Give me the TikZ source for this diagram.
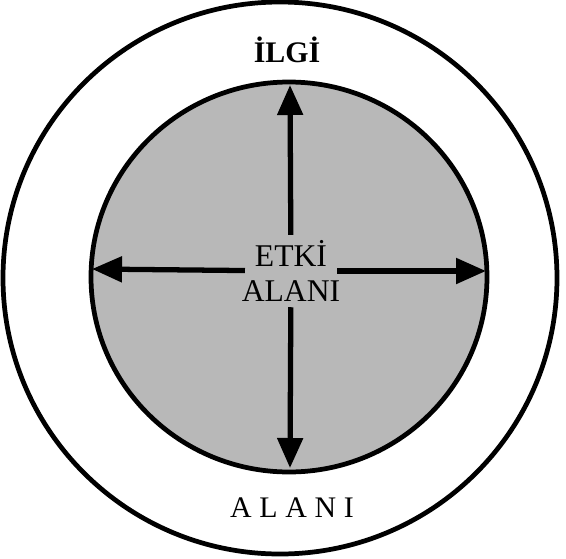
\documentclass[tikz,border=0pt]{standalone}
\usepackage{fontspec}
\setmainfont{Liberation Serif}
\usetikzlibrary{arrows.meta}
\tikzset{
  ring/.style={line width=2.7pt},
  arr/.style={line width=3pt, -{Triangle[length=0.6cm,width=0.5cm]}},
  lbl/.style={font=\fontsize{18}{20}\selectfont}
}
\begin{document}
\begin{tikzpicture}[x=0.02cm,y=-0.02cm]
  \useasboundingbox (0,0) rectangle (566,559);
  \draw[ring] (280,278) ellipse[x radius=277, y radius=276];
  \filldraw[ring, fill=black!28] (289,277) ellipse[x radius=198, y radius=195];

  \node[lbl, font=\fontsize{17}{19}\selectfont\bfseries] (ilgi) at (287,50) {İLGİ};
  \node[lbl, font=\fontsize{17}{19}\selectfont\addfontfeatures{LetterSpace=26}] (alani) at (292,508) {ALANI};
  \node[lbl, align=center, inner xsep=-2pt, inner ysep=3pt] (etki) at (291,271) {ETKİ\\ALANI};

  \coordinate (n) at (290,85);
  \coordinate (s) at (290,468);
  \coordinate (w) at (92,269);
  \coordinate (e) at (486,271);
  \draw[arr] (etki) -- (n);
  \draw[arr] (etki) -- (s);
  \draw[arr] (etki) -- (w);
  \draw[arr] (etki) -- (e);
\end{tikzpicture}
\end{document}
